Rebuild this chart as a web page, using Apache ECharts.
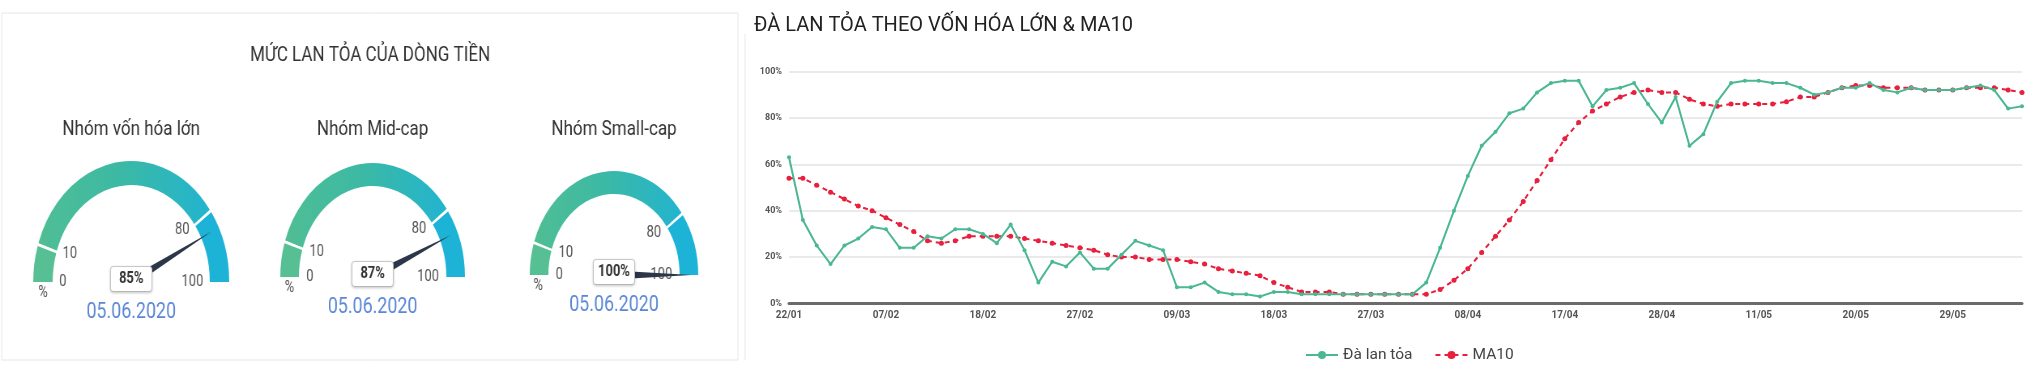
<!DOCTYPE html>
<html><head><meta charset="utf-8">
<script src="https://cdn.jsdelivr.net/npm/echarts@6.0.0/dist/echarts.min.js"></script>
<style>
html,body{margin:0;padding:0;background:#fff;width:2042px;height:374px;overflow:hidden}
#left{position:absolute;left:0;top:0;width:914px;height:374px;transform:scaleX(0.81);transform-origin:0 0}
#right{position:absolute;left:740px;top:0;width:1302px;height:374px}
</style></head><body>
<div id="left"></div><div id="right"></div>
<script>
// ---------- DATA ----------
const panelTitle = 'MỨC LAN TỎA CỦA DÒNG TIỀN';
const gaugeNames = ['Nhóm vốn hóa lớn', 'Nhóm Mid-cap', 'Nhóm Small-cap'];
const gaugeValues = [85, 87, 100];
const gaugeDate = '05.06.2020';
const gaugeTickLabels = [0, 10, 80, 100];

const lineTitle = 'ĐÀ LAN TỎA THEO VỐN HÓA LỚN & MA10';
const seriesNames = ['Đà lan tỏa', 'MA10'];
const dates = ['22/01','30/01','31/01','03/02','04/02','05/02','06/02','07/02','10/02','11/02',
 '12/02','13/02','14/02','17/02','18/02','19/02','20/02','21/02','24/02','25/02',
 '26/02','27/02','28/02','02/03','03/03','04/03','05/03','06/03','09/03','10/03',
 '11/03','12/03','13/03','16/03','17/03','18/03','19/03','20/03','23/03','24/03',
 '25/03','26/03','27/03','30/03','31/03','01/04','03/04','06/04','07/04','08/04',
 '09/04','10/04','13/04','14/04','15/04','16/04','17/04','20/04','21/04','22/04',
 '23/04','24/04','27/04','28/04','29/04','04/05','05/05','06/05','07/05','08/05',
 '11/05','12/05','13/05','14/05','15/05','18/05','19/05','20/05','21/05','22/05',
 '25/05','26/05','27/05','28/05','29/05','01/06','02/06','03/06','04/06','05/06'];
const spread = [63,36,25,17,25,28,33,32,24,24,
 29,28,32,32,30,26,34,23,9,18,
 16,22,15,15,21,27,25,23,7,7,
 9,5,4,4,3,5,5,4,4,4,
 4,4,4,4,4,4,9,24,40,55,
 68,74,82,84,91,95,96,96,85,92,
 93,95,86,78,89,68,73,87,95,96,
 96,95,95,93,90,91,93,93,95,92,
 91,93,92,92,92,93,94,92,84,85];
const ma10 = [54,54,51,48,45,42,40,37,34,31,
 27,26,27,29,29,29,29,28,27,26,
 25,24,23,21,20,20,19,19,19,18,
 17,15,14,13,12,9,7,5,5,5,
 4,4,4,4,4,4,4,6,10,15,
 22,29,36,44,53,62,71,78,83,86,
 89,91,92,91,91,88,86,85,86,86,
 86,86,87,89,89,91,93,94,94,93,
 93,93,92,92,92,93,93,93,92,91];
const yTicks = [0, 20, 40, 60, 80, 100];

// ---------- LEFT PANEL (gauges) ----------
const FONT = 'Roboto, "Noto Sans", sans-serif';
const gLayout = [
  {c: [162, 282], r: 121, w: 24},
  {c: [460, 277], r: 114, w: 23},
  {c: [758, 275], r: 104, w: 23}
];
const arcGrad = new echarts.graphic.LinearGradient(0, 0, 1, 0, [
  {offset: 0, color: '#50be94'}, {offset: 0.5, color: '#3bb9a6'}, {offset: 1, color: '#22b4d0'}
]);
const gaugeSeries = [];
gaugeValues.forEach((v, i) => {
  const base = {
    type: 'gauge', center: gLayout[i].c, radius: gLayout[i].r,
    startAngle: 180, endAngle: 0, min: 0, max: 100, splitNumber: 10
  };
  gaugeSeries.push(Object.assign({}, base, {
    z: 2,
    axisLine: {lineStyle: {width: gLayout[i].w, color: [
      [0.096, '#56bf93'], [0.104, '#ffffff'], [0.796, arcGrad], [0.804, '#ffffff'], [1, '#1db3d7']
    ]}},
    axisTick: {show: false},
    splitLine: {show: false},
    axisLabel: {distance: 12, color: '#555', fontSize: 16, fontFamily: FONT,
      formatter: val => gaugeTickLabels.indexOf(Math.round(val)) >= 0 ? String(Math.round(val)) : ''},
    pointer: {icon: 'path://M5,0 L10,100 L0,100 Z', length: '92%', width: 9,
      itemStyle: {color: '#2b3648'}},
    anchor: {show: false},
    title: {offsetCenter: [0, 30], color: '#5b87d6', fontSize: 22, fontFamily: FONT},
    detail: {show: false},
    data: [{value: v, name: gaugeDate}]
  }));
  // overlay series that only carries the value box, drawn above the needle
  gaugeSeries.push(Object.assign({}, base, {
    z: 5,
    axisLine: {show: false}, axisTick: {show: false}, splitLine: {show: false},
    axisLabel: {show: false}, pointer: {show: false}, anchor: {show: false},
    title: {show: false},
    detail: {offsetCenter: [0, -3], formatter: '{value}%', fontSize: 16, fontWeight: 'bold',
      color: '#333', backgroundColor: '#fff', borderColor: '#cfcfcf', borderWidth: 1,
      borderRadius: 3, width: 44, height: 22, lineHeight: 22, padding: [1, 3], fontFamily: FONT,
      shadowColor: 'rgba(0,0,0,0.18)', shadowBlur: 3, shadowOffsetY: 1},
    data: [{value: v, name: ''}]
  }));
});
const leftGraphics = [
  {type: 'rect', shape: {x: 2, y: 13, width: 909, height: 347},
   style: {fill: 'none', stroke: '#e6e6e6', lineWidth: 1}, z: -10}
];
gaugeNames.forEach((n, i) => {
  leftGraphics.push({type: 'text', x: gLayout[i].c[0], y: 130,
    style: {text: n, fill: '#333', font: '21px ' + FONT, textAlign: 'center', textVerticalAlign: 'middle', align: 'center', verticalAlign: 'middle'}});
  leftGraphics.push({type: 'text', x: gLayout[i].c[0] - 0.9 * gLayout[i].r, y: gLayout[i].c[1] + 11,
    style: {text: '%', fill: '#555', font: '16px ' + FONT, textAlign: 'center', textVerticalAlign: 'middle', align: 'center', verticalAlign: 'middle'}});
});
const left = echarts.init(document.getElementById('left'), null, {renderer: 'canvas'});
left.setOption({
  animation: false,
  textStyle: {fontFamily: FONT},
  title: {text: panelTitle, left: 'center', top: 40,
    textStyle: {fontSize: 21, fontWeight: 'normal', color: '#333', fontFamily: FONT}},
  graphic: leftGraphics,
  series: gaugeSeries
});

// ---------- RIGHT PANEL (line chart) ----------
const right = echarts.init(document.getElementById('right'), null, {renderer: 'canvas'});
right.setOption({
  animation: false,
  textStyle: {fontFamily: FONT},
  title: {text: lineTitle, left: 9, top: 11,
    textStyle: {fontSize: 20, fontWeight: 'normal', color: '#222', fontFamily: FONT}},
  graphic: [{type: 'line', shape: {x1: 5, y1: 34, x2: 5, y2: 360},
    style: {stroke: '#e8e8e8', lineWidth: 1}}],
  grid: {left: 49, right: 20, top: 71.5, bottom: 70.5, containLabel: false},
  legend: {left: 560, top: 342, itemWidth: 32, itemHeight: 10, itemGap: 22,
    textStyle: {fontSize: 15.5, color: '#444', fontFamily: FONT},
    data: seriesNames},
  xAxis: {type: 'category', data: dates, boundaryGap: false,
    axisLine: {lineStyle: {color: '#6b6b6b', width: 3}},
    axisTick: {show: false},
    axisLabel: {interval: 6, color: '#555', fontSize: 10, fontWeight: 'bold', margin: 7},
    splitLine: {show: false}},
  yAxis: {type: 'value', min: yTicks[0], max: yTicks[yTicks.length - 1], interval: 20,
    axisLine: {show: false}, axisTick: {show: false},
    axisLabel: {formatter: '{value}%', color: '#555', fontSize: 9, fontWeight: 'bold', margin: 7},
    splitLine: {lineStyle: {color: '#e3e3e3', width: 1.5}}},
  series: [
    {name: seriesNames[0], type: 'line', data: spread, symbol: 'circle', symbolSize: 4,
     lineStyle: {color: '#4bb893', width: 2}, itemStyle: {color: '#4bb893'}, z: 3},
    {name: seriesNames[1], type: 'line', data: ma10, symbol: 'circle', symbolSize: 5,
     lineStyle: {color: '#e8203d', width: 2, type: [5, 4]}, itemStyle: {color: '#e8203d'}, z: 2}
  ]
});
</script></body></html>
